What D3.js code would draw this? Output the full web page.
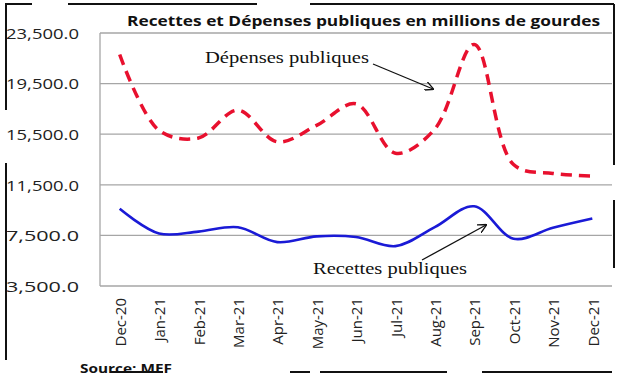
<!DOCTYPE html>
<html><head><meta charset="utf-8">
<script src="https://cdn.jsdelivr.net/npm/d3@7"></script>
<style>body{margin:0;background:#fff}svg{display:block}</style>
</head><body>
<script>
const months = ["Dec-20","Jan-21","Feb-21","Mar-21","Apr-21","May-21","Jun-21","Jul-21","Aug-21","Sep-21","Oct-21","Nov-21","Dec-21"];
const depenses = [21800,15800,15200,17400,14900,16200,17900,14000,15900,22600,13100,12400,12200];
const recettes = [9600,7650,7800,8150,6970,7420,7370,6650,8150,9800,7240,8100,8830];
const yTicks = [3500,7500,11500,15500,19500,23500];

const W=619,H=377;
const svg=d3.select("body").append("svg").attr("width",W).attr("height",H);
const m={l:100,r:7,t:33,b:91};
const x=d3.scaleBand().domain(months).range([m.l,W-m.r]);
const y=d3.scaleLinear().domain([3500,23500]).range([H-m.b,m.t]);
const cx=d=>x(d)+x.bandwidth()/2;

// frame fragments
const frame=[[5,4,32,4],[68,4,257,4],[310,4,614,4],[6,5,6,110],[6,163,6,360],[614,4,614,165],[614,200,614,268],
 [110,372,163,372],[290,372,310,372],[320,372,447,372],[482,372,612,372]];
svg.selectAll("line.fr").data(frame).join("line").attr("class","fr")
 .attr("x1",d=>d[0]).attr("y1",d=>d[1]).attr("x2",d=>d[2]).attr("y2",d=>d[3])
 .attr("stroke","#111").attr("stroke-width",2);

// grid
svg.append("g").selectAll("line").data(yTicks).join("line")
 .attr("x1",m.l).attr("x2",W-m.r).attr("y1",d=>y(d)).attr("y2",d=>y(d))
 .attr("stroke","#a6a6a6").attr("stroke-width",1.3);
svg.append("line").attr("x1",m.l).attr("x2",m.l).attr("y1",y(23500)).attr("y2",y(3500))
 .attr("stroke","#a6a6a6").attr("stroke-width",1.3);

// y labels
const ya=svg.append("g").attr("transform",`translate(${m.l-18},0)`)
 .call(d3.axisLeft(y).tickValues(yTicks).tickSize(0).tickFormat(d3.format(",.1f")));
ya.select(".domain").remove();
ya.selectAll("text").attr("font-family","Open Sans, sans-serif").attr("font-size",15).attr("fill","#222").attr("dy","0.35em")
 .attr("textLength",73).attr("lengthAdjust","spacingAndGlyphs");

// x labels
const xa=svg.append("g").attr("transform",`translate(0,${H-m.b})`)
 .call(d3.axisBottom(x).tickSize(0));
xa.select(".domain").remove();
xa.selectAll("text").attr("font-family","Open Sans, sans-serif").attr("font-size",15).attr("fill","#222")
 .attr("transform","rotate(-90)").attr("text-anchor","end").attr("x",-12).attr("y",1).attr("dy","0.35em");

// lines
const line=d3.line().x((d,i)=>cx(months[i])).y(d=>y(d)).curve(d3.curveCatmullRom.alpha(0.5));
svg.append("path").attr("d",line(depenses)).attr("fill","none").attr("stroke","#e8102e")
 .attr("stroke-width",3.5).attr("stroke-dasharray","11,7");
svg.append("path").attr("d",line(recettes)).attr("fill","none").attr("stroke","#1a1ad6")
 .attr("stroke-width",2.6);

// title
svg.append("text").attr("x",127).attr("y",26).attr("font-family","Open Sans, sans-serif").attr("font-weight","bold")
 .attr("font-size",14.5).attr("textLength",473).attr("lengthAdjust","spacingAndGlyphs").attr("fill","#111")
 .text("Recettes et Dépenses publiques en millions de gourdes");

// annotations
const defs=svg.append("defs");
defs.append("marker").attr("id","ah").attr("viewBox","0 0 10 10").attr("refX",9).attr("refY",5)
 .attr("markerWidth",7).attr("markerHeight",7).attr("orient","auto")
 .append("path").attr("d","M0,0 L10,5 L0,10").attr("fill","none").attr("stroke","#111").attr("stroke-width",1.5);
svg.append("text").attr("x",205).attr("y",63).attr("font-family","Liberation Serif, serif").attr("font-size",16)
 .attr("fill","#111").attr("textLength",164).attr("lengthAdjust","spacingAndGlyphs").text("Dépenses publiques");
svg.append("line").attr("x1",373).attr("y1",64).attr("x2",433).attr("y2",89).attr("stroke","#111").attr("stroke-width",1.3).attr("marker-end","url(#ah)");
svg.append("text").attr("x",313).attr("y",274).attr("font-family","Liberation Serif, serif").attr("font-size",16)
 .attr("fill","#111").attr("textLength",154).attr("lengthAdjust","spacingAndGlyphs").text("Recettes publiques");
svg.append("line").attr("x1",422).attr("y1",260).attr("x2",486).attr("y2",225).attr("stroke","#111").attr("stroke-width",1.3).attr("marker-end","url(#ah)");

// source
svg.append("text").attr("x",80).attr("y",373).attr("font-family","Open Sans, sans-serif").attr("font-weight","bold")
 .attr("font-size",13).attr("fill","#111").attr("textLength",92).attr("lengthAdjust","spacingAndGlyphs").text("Source: MEF");
</script>
</body></html>
